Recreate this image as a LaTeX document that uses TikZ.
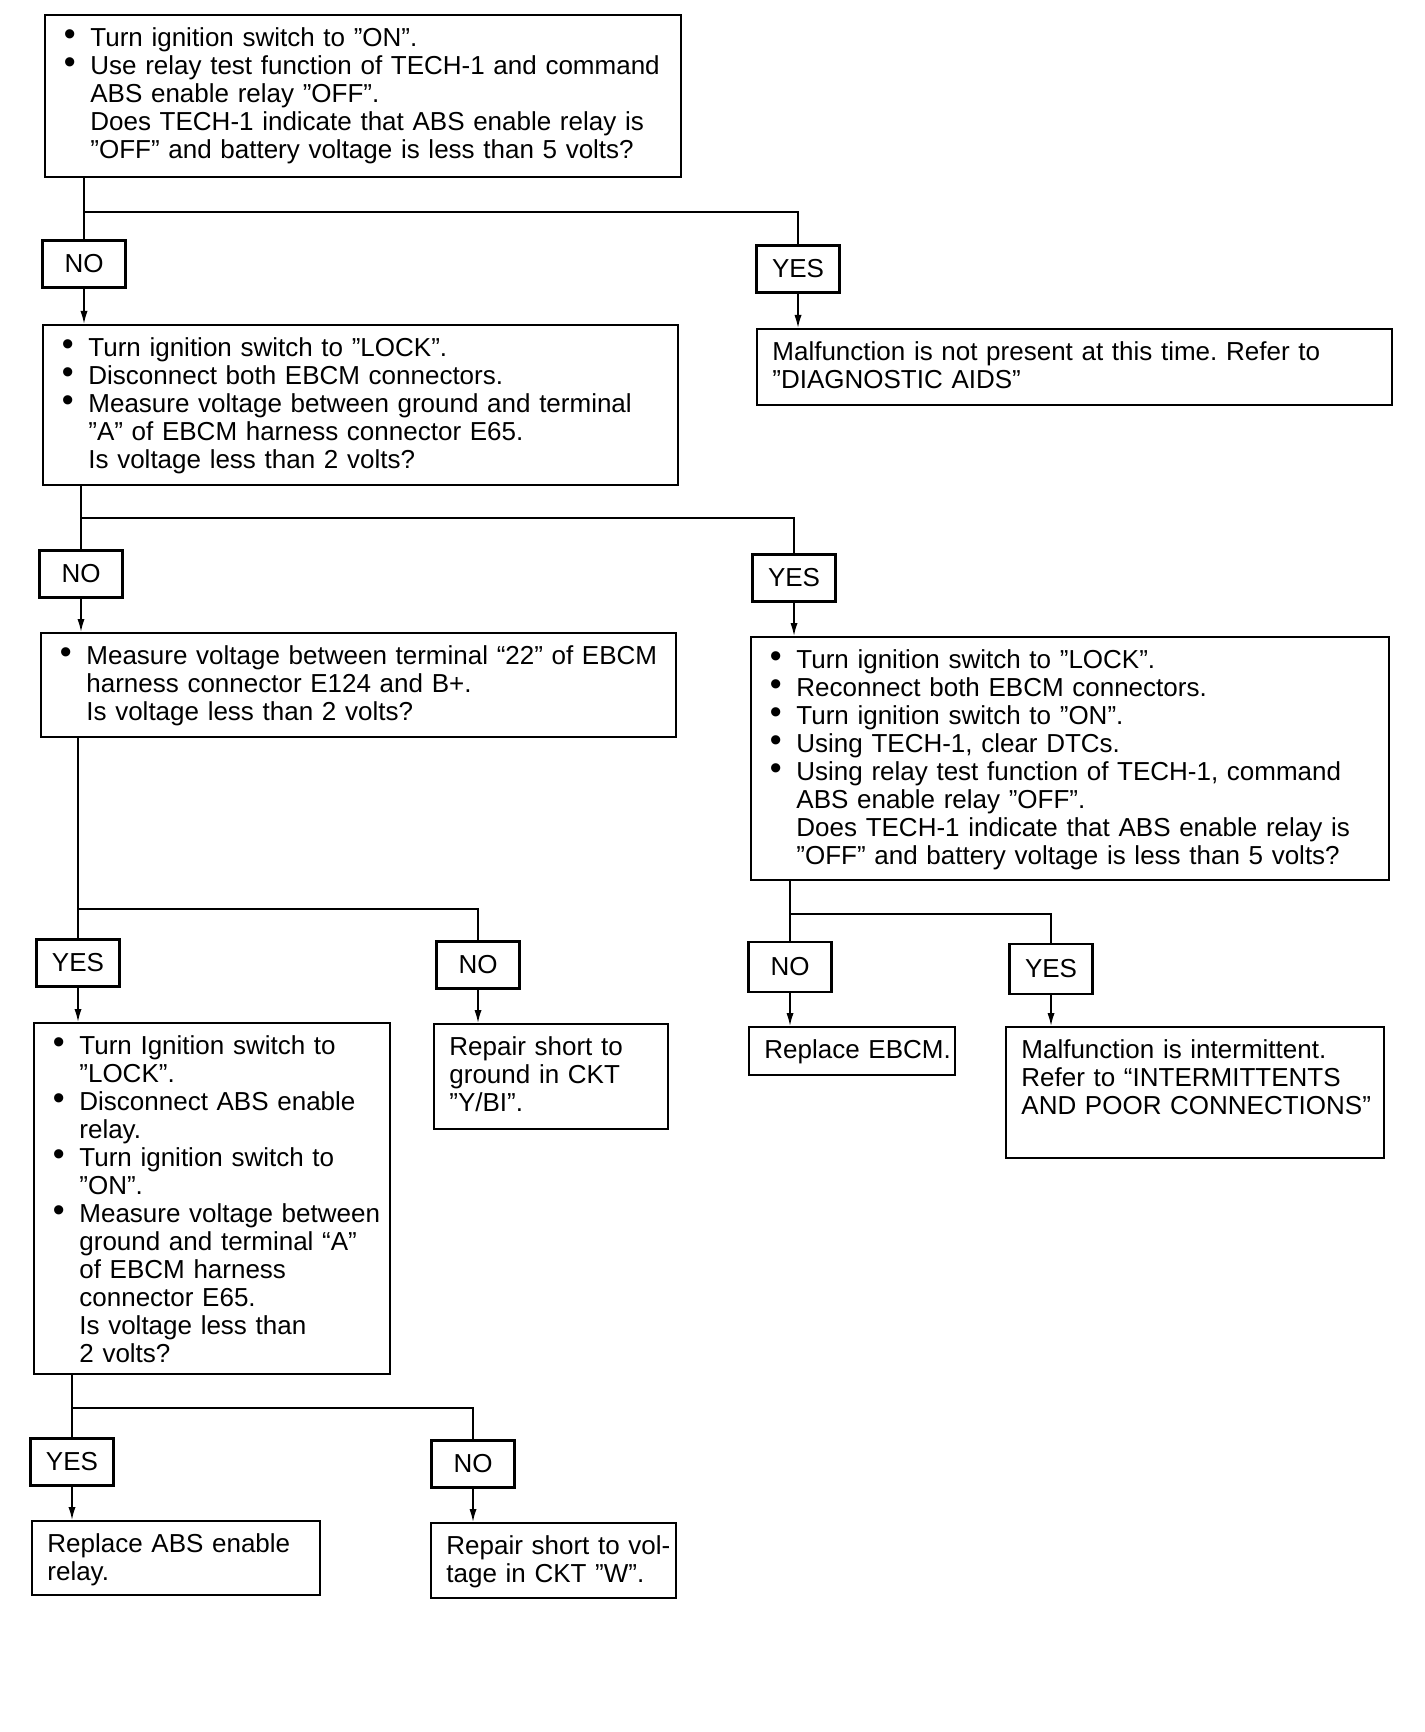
\documentclass[tikz,border=0pt]{standalone}
\usepackage{fontspec}
\setmainfont{Liberation Sans}
\usetikzlibrary{arrows.meta}
\frenchspacing
\newlength{\bw}
\setlength{\bw}{13.3pt}
\newcommand\bl{\par\noindent\makebox[\bw][l]{\raisebox{0.5pt}{\scalebox{1.3}{\textbullet}}}}
\newcommand\cl{\par\noindent\hspace*{\bw}}
\newcommand\pl{\par\noindent}
\tikzset{
  box/.style={draw, line width=1.1pt, rectangle, inner sep=0pt},
  lab/.style={draw, line width=1.1pt, rectangle, inner sep=0pt, minimum width=41.5pt, minimum height=23.5pt, font=\fontsize{13}{14}\selectfont},
  txt/.style={anchor=base west, inner sep=0pt, text width=330pt, align=left, font=\fontsize{13}{14}\selectfont},
  conn/.style={line width=0.8pt},
  arr/.style={line width=0.8pt, -{Latex[length=6.5pt,width=3.6pt]}}
}
\newcommand\boxat[5]{\node[box, anchor=north west, minimum width=#4*0.5pt, minimum height=#5*0.5pt] (#1) at (#2,#3) {};}
\begin{document}
\begin{tikzpicture}[x=0.5pt,y=-0.5pt]
\useasboundingbox (0,0) rectangle (1424,1732);
% main boxes
\boxat{b1}{44}{14}{636}{162}
\boxat{b2}{42}{324}{635}{160}
\boxat{m1}{756}{328}{635}{76}
\boxat{b3}{40}{632}{635}{104}
\boxat{b4}{750}{636}{638}{243}
\boxat{b5}{33}{1022}{356}{351}
\boxat{b6}{433}{1023}{234}{105}
\boxat{e1}{748}{1026}{206}{48}
\boxat{m2}{1005}{1026}{378}{131}
\boxat{r1}{31}{1520}{288}{74}
\boxat{r2}{430}{1522}{245}{75}
% texts
\node[txt, xshift=9.7pt, yshift=-2.3pt] (t1) at (b1.north west) {%
\bl Turn ignition switch to "ON".
\bl Use relay test function of TECH-1 and command
\cl ABS enable relay "OFF".
\cl Does TECH-1 indicate that ABS enable relay is
\cl "OFF" and battery voltage is less than 5 volts?};
\node[txt, xshift=9.7pt, yshift=-2.3pt] (t2) at (b2.north west) {%
\bl Turn ignition switch to "LOCK".
\bl Disconnect both EBCM connectors.
\bl Measure voltage between ground and terminal
\cl "A" of EBCM harness connector E65.
\cl Is voltage less than 2 volts?};
\node[txt, xshift=8pt, yshift=-2.3pt] (tm1) at (m1.north west) {%
\pl Malfunction is not present at this time. Refer to
\pl "DIAGNOSTIC AIDS"};
\node[txt, xshift=9.7pt, yshift=-2.3pt] (t3) at (b3.north west) {%
\bl Measure voltage between terminal “22” of EBCM
\cl harness connector E124 and B+.
\cl Is voltage less than 2 volts?};
\node[txt, xshift=9.7pt, yshift=-2.3pt] (t4) at (b4.north west) {%
\bl Turn ignition switch to "LOCK".
\bl Reconnect both EBCM connectors.
\bl Turn ignition switch to "ON".
\bl Using TECH-1, clear DTCs.
\bl Using relay test function of TECH-1, command
\cl ABS enable relay "OFF".
\cl Does TECH-1 indicate that ABS enable relay is
\cl "OFF" and battery voltage is less than 5 volts?};
\node[txt, xshift=9.7pt, yshift=-2.3pt] (t5) at (b5.north west) {%
\bl Turn Ignition switch to
\cl "LOCK".
\bl Disconnect ABS enable
\cl relay.
\bl Turn ignition switch to
\cl "ON".
\bl Measure voltage between
\cl ground and terminal “A”
\cl of EBCM harness
\cl connector E65.
\cl Is voltage less than
\cl 2 volts?};
\node[txt, xshift=8pt, yshift=-2.3pt] (t6) at (b6.north west) {%
\pl Repair short to
\pl ground in CKT
\pl "Y/BI".};
\node[txt, xshift=8pt, yshift=-2.3pt] (te1) at (e1.north west) {%
\pl Replace EBCM.};
\node[txt, xshift=8pt, yshift=-2.3pt] (tm2) at (m2.north west) {%
\pl Malfunction is intermittent.
\pl Refer to “INTERMITTENTS
\pl AND POOR CONNECTIONS”};
\node[txt, xshift=8pt, yshift=-2.3pt] (tr1) at (r1.north west) {%
\pl Replace ABS enable
\pl relay.};
\node[txt, xshift=8pt, yshift=-2.3pt] (tr2) at (r2.north west) {%
\pl Repair short to vol-
\pl tage in CKT "W".};
% label boxes
\node[lab] (no1) at (84,264) {NO};
\node[lab] (yes1) at (798,269) {YES};
\node[lab] (no2) at (81,574) {NO};
\node[lab] (yes2) at (794,578) {YES};
\node[lab] (yes3) at (78,963) {YES};
\node[lab] (no3) at (478,965) {NO};
\node[lab, minimum height=25pt] (no4) at (790,967) {NO};
\node[lab, minimum height=25pt] (yes4) at (1051,969) {YES};
\node[lab] (yes5) at (72,1462) {YES};
\node[lab] (no5) at (473,1464) {NO};
% junction coordinates
\coordinate (j1) at (0,212);
\coordinate (j2) at (0,518);
\coordinate (j3) at (0,909);
\coordinate (j4) at (0,914);
\coordinate (j5) at (0,1408);
% connectors
\draw[conn] (b1.south -| no1.north) -- (no1.north);
\draw[conn] (no1.north |- j1) -- (j1 -| yes1.north) -- (yes1.north);
\draw[arr] (no1.south) -- (no1.south |- b2.north);
\draw[arr] (yes1.south) -- (yes1.south |- m1.north);
\draw[conn] (b2.south -| no2.north) -- (no2.north);
\draw[conn] (no2.north |- j2) -- (j2 -| yes2.north) -- (yes2.north);
\draw[arr] (no2.south) -- (no2.south |- b3.north);
\draw[arr] (yes2.south) -- (yes2.south |- b4.north);
\draw[conn] (b3.south -| yes3.north) -- (yes3.north);
\draw[conn] (yes3.north |- j3) -- (j3 -| no3.north) -- (no3.north);
\draw[arr] (yes3.south) -- (yes3.south |- b5.north);
\draw[arr] (no3.south) -- (no3.south |- b6.north);
\draw[conn] (b4.south -| no4.north) -- (no4.north);
\draw[conn] (no4.north |- j4) -- (j4 -| yes4.north) -- (yes4.north);
\draw[arr] (no4.south) -- (no4.south |- e1.north);
\draw[arr] (yes4.south) -- (yes4.south |- m2.north);
\draw[conn] (b5.south -| yes5.north) -- (yes5.north);
\draw[conn] (yes5.north |- j5) -- (j5 -| no5.north) -- (no5.north);
\draw[arr] (yes5.south) -- (yes5.south |- r1.north);
\draw[arr] (no5.south) -- (no5.south |- r2.north);
\end{tikzpicture}
\end{document}
